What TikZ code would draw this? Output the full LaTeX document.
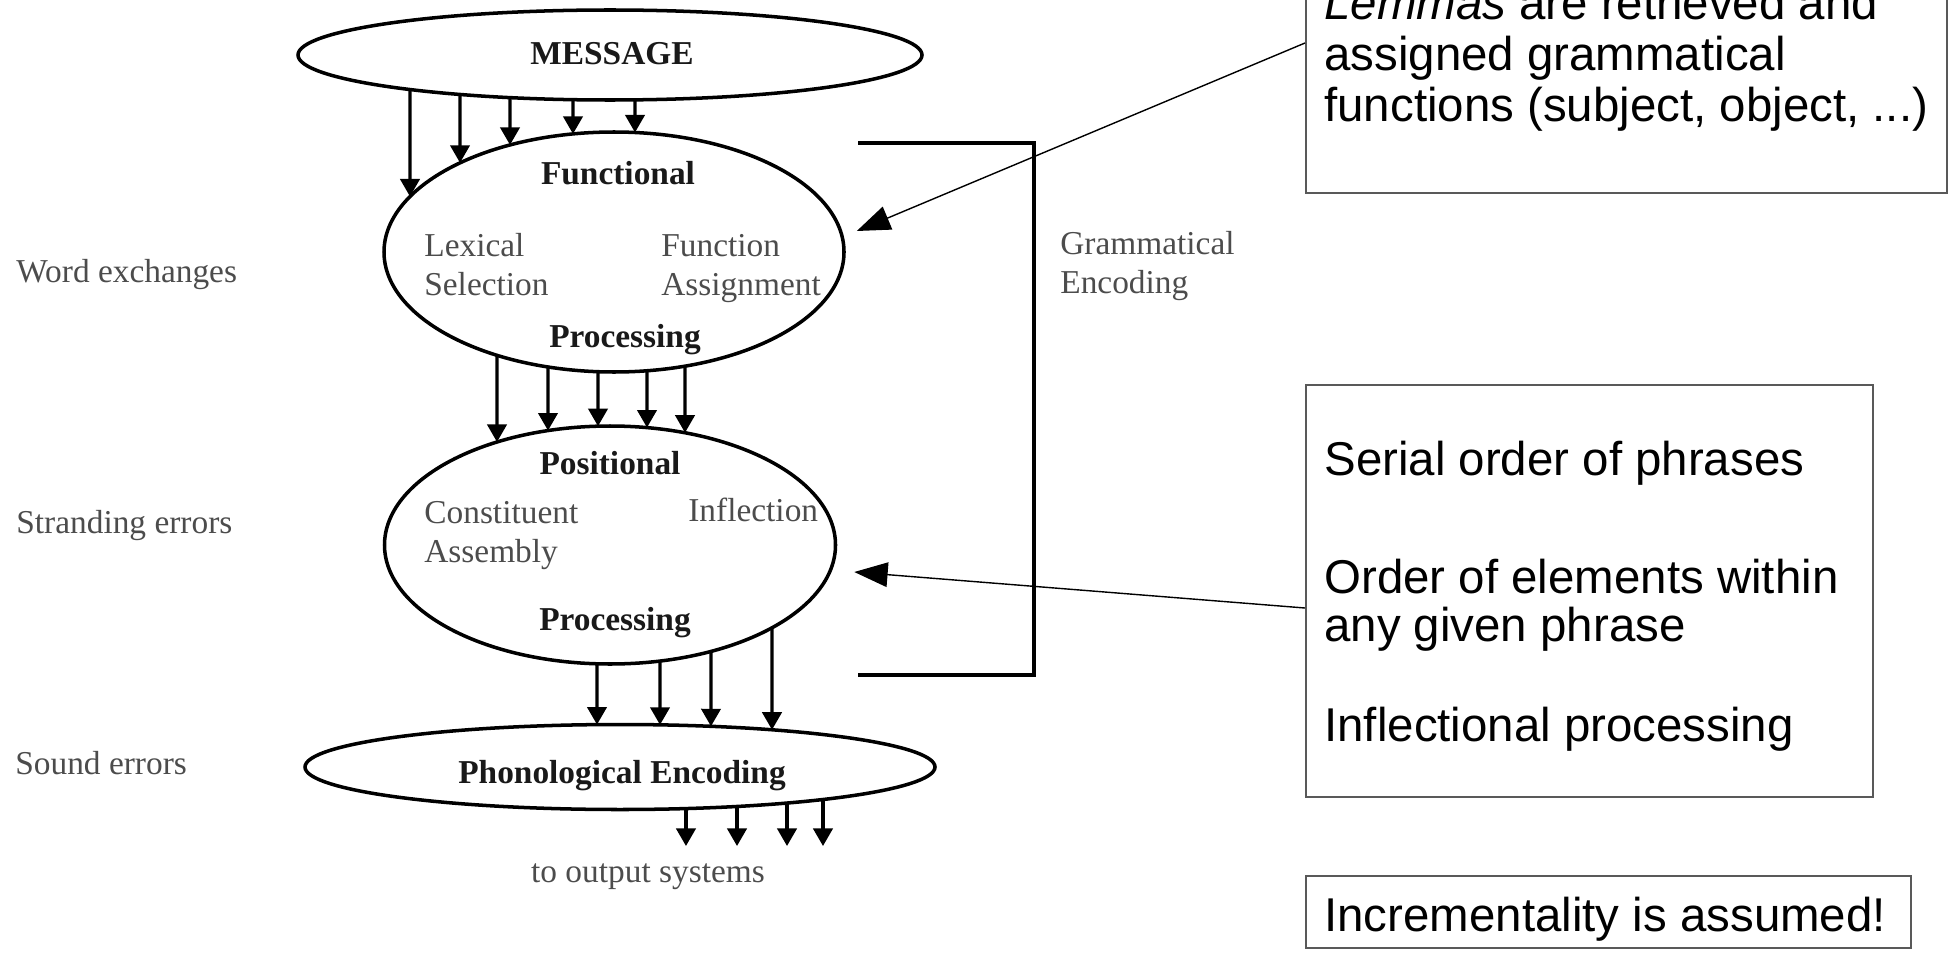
\documentclass[tikz,border=0pt]{standalone}
\usepackage{fontspec}
\setmainfont{Liberation Serif}
\newfontfamily\notefont{Liberation Sans}
\usetikzlibrary{shapes.geometric,arrows.meta,positioning,calc,intersections}
\def\px{0.02cm}
\def\notepad{19}

\tikzset{
  stage/.style={draw, ellipse, line width=2pt, inner sep=0pt},
  stage title/.style={font=\fontsize{19}{22.2}\selectfont\bfseries, text=black!90, inner sep=0pt},
  stage part/.style={font=\fontsize{19}{22.2}\selectfont, text=black!70, align=left, anchor=west, inner sep=0pt},
  feed/.style={line width=1.8pt, -{Triangle[length=10pt,width=11pt]}},
  note box/.style={draw=black!65, line width=0.9pt, inner sep=0pt},
  note line/.style={font=\notefont\fontsize{27}{29}\selectfont, anchor=base west, inner sep=0pt},
  callout/.style={line width=0.8pt, -{Triangle[length=19pt,width=14pt]}},
}

\begin{document}
\begin{tikzpicture}[x=\px, y=-\px]
\useasboundingbox (0,0) rectangle (1950,953);
\clip (0,0) rectangle (1950,953);

\node[stage, minimum width=624*\px, minimum height=90*\px, name path=MsgPath] (Msg) at (610,55) {};
\node[stage, minimum width=460*\px, minimum height=240*\px, name path=FuncPath] (Func) at (614,252) {};
\node[stage, minimum width=451*\px, minimum height=238*\px, name path=PosPath] (Pos) at (610,545) {};
\node[stage, minimum width=630*\px, minimum height=85*\px, name path=PhonPath] (Phon) at (620,767) {};

\node[stage title] (MsgText) at ($ (Msg.center) + (2,-1) $) {MESSAGE};
\node[stage title] (FuncTop) at ($ (Func.center) + (4,-79) $) {Functional};
\node[stage part] (LexSel) at ($ (Func.center) + (-190,13) $) {Lexical\\Selection};
\node[stage part] (FunAss) at ($ (Func.center) + (47,17) $) {Function\\Assignment};
\node[stage title] (FuncBot) at ($ (Func.center) + (11,88) $) {Processing};
\node[stage title] (PosTop) at ($ (Pos.center) + (0,-82) $) {Positional};
\node[stage part] (ConAss) at ($ (Pos.center) + (-186,-9) $) {Constituent\\Assembly};
\node[stage part] (Infl) at ($ (Pos.center) + (78,-35) $) {Inflection};
\node[stage title] (PosBot) at ($ (Pos.center) + (5,78) $) {Processing};
\node[stage title] (PhonText) at ($ (Phon.center) + (2,9) $) {Phonological Encoding};
\node[stage part, anchor=center] (Output) at ($ (Phon.center) + (28,110) $) {to output systems};
\coordinate (OutLevel) at (0,846);

\node[stage part] (WordEx) at (16,275) {Word exchanges};
\node[stage part] (Strand) at (16,526) {Stranding errors};
\node[stage part] (Sound) at (15,763) {Sound errors};
\node[stage part] (GramEnc) at (1060,266) {Grammatical\\Encoding};

\foreach \xa in {410,460,510,573,635} {
  \path[name path=Drop] (\xa,0) -- (\xa,953);
  \draw[feed, name intersections={of=Drop and MsgPath, name=Up, sort by=Drop},
    name intersections={of=Drop and FuncPath, name=Dn, sort by=Drop}] (Up-2) -- (Dn-1);
}
\foreach \xa in {497,548,598,647,685} {
  \path[name path=Drop] (\xa,0) -- (\xa,953);
  \draw[feed, name intersections={of=Drop and FuncPath, name=Up, sort by=Drop},
    name intersections={of=Drop and PosPath, name=Dn, sort by=Drop}] (Up-2) -- (Dn-1);
}
\foreach \xa in {597,660,711,772} {
  \path[name path=Drop] (\xa,0) -- (\xa,953);
  \draw[feed, name intersections={of=Drop and PosPath, name=Up, sort by=Drop},
    name intersections={of=Drop and PhonPath, name=Dn, sort by=Drop}] (Up-2) -- (Dn-1);
}
\foreach \xa in {686,737,787,823} {
  \path[name path=Drop] (\xa,767) -- (\xa,953);
  \draw[feed, name intersections={of=Drop and PhonPath, name=Up}] (Up-1) -- (Up-1 |- OutLevel);
}

\draw[line width=2.8pt] (858,143) coordinate (BracketA)
  -- (1034,143) coordinate (BracketB)
  -- (1034,675) coordinate (BracketC)
  -- (858,675) coordinate (BracketD)
;

\node[note box, minimum width=641*\px, minimum height=290*\px, anchor=south west] (LemmaBox) at (1305,194) {};
\node[note line] (LemmaA) at ($ (LemmaBox.south west) + (\notepad,-174) $) {\textit{Lemmas} are retrieved and};
\node[note line] (LemmaB) at ($ (LemmaBox.south west) + (\notepad,-123) $) {assigned grammatical};
\node[note line] (LemmaC) at ($ (LemmaBox.south west) + (\notepad,-72) $) {functions (subject, object, ...)};

\node[note box, minimum width=567*\px, minimum height=412*\px, anchor=north west] (OrderBox) at (1305,384) {};
\node[note line] (Serial) at ($ (OrderBox.north west) + (\notepad,91) $) {Serial order of phrases};
\node[note line] (Within) at ($ (OrderBox.north west) + (\notepad,209) $) {Order of elements within};
\node[note line] (AnyPhrase) at ($ (OrderBox.north west) + (\notepad,257) $) {any given phrase};
\node[note line] (InflProc) at ($ (OrderBox.north west) + (\notepad,357) $) {Inflectional processing};

\node[note box, minimum width=605*\px, minimum height=72*\px, anchor=north west] (IncrBox) at (1305,875) {};
\node[note line] (Incr) at ($ (IncrBox.north west) + (\notepad,56) $) {Incrementality is assumed!};

\coordinate (FuncTip) at ($ (Func.east) + (11,-21) $);
\coordinate (PosTip) at ($ (Pos.east) + (17,27) $);
\draw[callout] ($ (LemmaBox.south west) + (0,-151) $) -- (FuncTip);
\draw[callout] ($ (OrderBox.north west) + (0,224) $) -- (PosTip);

\end{tikzpicture}
\end{document}
